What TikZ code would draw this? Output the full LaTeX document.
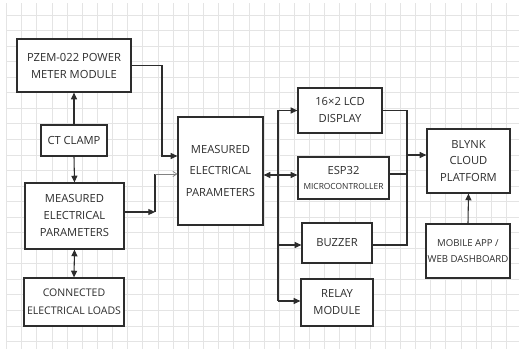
\documentclass[tikz,border=0pt]{standalone}
\usepackage{fontspec}
\setmainfont{Open Sans}
\usepackage{tikz}
\usetikzlibrary{arrows.meta, calc}
\definecolor{mydark}{RGB}{45,45,45}
\definecolor{mygrid}{RGB}{228,228,228}
\definecolor{mygrey}{RGB}{130,130,130}
\tikzset{
  block/.style={rectangle, draw=mydark, fill=white, align=center,
    text=mydark, line width=0.9pt, inner sep=1pt,
    font=\fontsize{8.4}{12.75}\selectfont},
  smallblock/.style={block, font=\fontsize{7.2}{12.5}\selectfont},
  arrow/.style={-{Triangle[length=5pt,width=4.5pt]}, line width=0.8pt, color=mydark},
  dblarrow/.style={{Triangle[length=5pt,width=4.5pt]}-{Triangle[length=5pt,width=4.5pt]},
    line width=0.8pt, color=mydark},
  greyarrow/.style={-{Straight Barb[length=3pt,width=4pt]}, line width=0.5pt, color=mygrey},
  line/.style={line width=0.8pt, color=mydark},
  gridline/.style={mygrid, line width=0.6pt}
}

\begin{document}
\begin{tikzpicture}[x=0.75pt, y=-0.75pt]
  \useasboundingbox (0,0) rectangle (519,349);

  % Background grid
  \foreach \i in {0,...,33} {
    \draw[gridline] ({6.5+15.15*\i},3) -- ({6.5+15.15*\i},349);
  }
  \foreach \j in {0,...,21} {
    \draw[gridline] (6,{15+15.55*\j}) -- (519,{15+15.55*\j});
  }

  % Left column
  \node[block, minimum width=85.5pt, minimum height=39.75pt] (pzem) at (74,65.5)
    {PZEM-022 POWER\\METER MODULE};
  \node[block, minimum width=49.5pt, minimum height=23.25pt] (ct) at (74,140.5)
    {CT CLAMP};
  \node[block, minimum width=74.25pt, minimum height=49.5pt] (mleft) at (74.5,216)
    {MEASURED\\ELECTRICAL\\PARAMETERS};
  \node[block, minimum width=75pt, minimum height=36pt,
    font=\fontsize{7.9}{13.2}\selectfont] (loads) at (74,302)
    {CONNECTED\\ELECTRICAL LOADS};

  % Centre block
  \node[block, minimum width=63.75pt, minimum height=81pt,
    font=\fontsize{8.4}{16.2}\selectfont] (mcenter) at (220.5,171)
    {MEASURED\\ELECTRICAL\\PARAMETERS};

  % Output column
  \node[block, minimum width=63pt, minimum height=33.75pt] (lcd) at (340,110.5)
    {16×2 LCD\\DISPLAY};
  \node[block, minimum width=68.25pt, minimum height=31.5pt] (esp) at (343.5,178)
    {ESP32\\[-2pt]{\fontsize{6.3}{8}\selectfont MICROCONTROLLER}};
  \node[block, minimum width=52.5pt, minimum height=30pt] (buzzer) at (337,243)
    {BUZZER};
  \node[block, minimum width=54pt, minimum height=35.25pt] (relay) at (337,302.5)
    {RELAY\\MODULE};

  % Cloud side
  \node[block, minimum width=62.25pt, minimum height=48pt,
    font=\fontsize{8.4}{12.4}\selectfont] (blynk) at (468.5,161)
    {BLYNK\\CLOUD\\PLATFORM};
  \node[smallblock, minimum width=63pt, minimum height=40.5pt] (mobile) at (468,251)
    {MOBILE APP /\\WEB DASHBOARD};

  % Junction points
  \coordinate (pzbend) at (162,0);
  \coordinate (mlbend) at (155,212);
  \coordinate (busL) at (278,0);
  \coordinate (busR) at (407,0);

  % Left column links
  \draw[arrow] (ct.north) -- (pzem.south);
  \draw[arrow] (ct.south) -- (mleft.north);
  \draw[dblarrow] (mleft.south) -- (loads.north);

  % Into the centre block
  \draw[arrow] (pzem.east) -| (pzbend |- 0,156) -- (mcenter.west |- 0,156);
  \draw[arrow] (mleft.east |- mlbend) -- (mlbend);
  \draw[line] (mlbend) -- (mlbend |- 0,174);
  \draw[greyarrow] (mlbend |- 0,174) -- (mcenter.west |- 0,174);

  % Centre to controller and outputs
  \draw[dblarrow] (mcenter.east |- 0,175) -- (esp.west |- 0,175);
  \draw[line] (busL |- lcd.west) -- (busL |- 0,301);
  \draw[arrow] (busL |- lcd.west) -- (lcd.west);
  \draw[arrow] (busL |- 0,245) -- (buzzer.west |- 0,245);
  \draw[arrow] (busL |- 0,301) -- (relay.west |- 0,301);

  % Outputs to the cloud
  \draw[line] (lcd.east) -| (busR |- 0,245) -- (buzzer.east |- 0,245);
  \draw[line] (esp.east |- 0,174) -- (busR |- 0,174);
  \draw[arrow] (busR |- 0,155) -- (blynk.west |- 0,155);
  \draw[arrow] (mobile.north) -- (blynk.south);
\end{tikzpicture}
\end{document}
